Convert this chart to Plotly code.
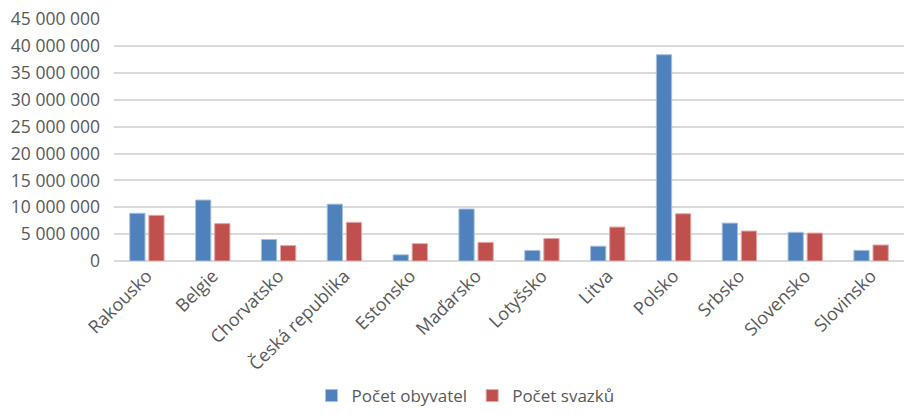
import plotly.graph_objects as go

countries = ["Rakousko", "Belgie", "Chorvatsko", "Česká republika", "Estonsko", "Maďarsko",
             "Lotyšsko", "Litva", "Polsko", "Srbsko", "Slovensko", "Slovinsko"]
obyvatel = [8890000, 11350000, 4000000, 10580000, 1150000, 9680000,
            1970000, 2750000, 38400000, 7060000, 5340000, 1980000]
svazku = [8500000, 6960000, 2870000, 7200000, 3230000, 3470000,
          4200000, 6320000, 8800000, 5580000, 5200000, 2980000]
yticks = [0, 5000000, 10000000, 15000000, 20000000, 25000000, 30000000, 35000000, 40000000, 45000000]

fam = "Open Sans, Lato, sans-serif"

fig = go.Figure()
fig.add_trace(go.Bar(x=countries, y=obyvatel, name="Počet obyvatel",
                     marker=dict(color="#4F81BD", line=dict(color="#A7C0DE", width=1))))
fig.add_trace(go.Bar(x=countries, y=svazku, name="Počet svazků",
                     marker=dict(color="#C0504D", line=dict(color="#E0A8A6", width=1))))

fig.update_layout(
    width=904, height=414,
    margin=dict(l=114, r=0, t=19, b=153, autoexpand=False),
    paper_bgcolor="white", plot_bgcolor="white",
    font=dict(family=fam, size=16, color="#595959"),
    separators=", ",
    barmode="group", bargap=0.42, bargroupgap=0.2,
    showlegend=True,
    legend=dict(orientation="h", xref="container", x=0.515, xanchor="center",
                yref="container", y=0, yanchor="bottom",
                font=dict(family=fam, size=17, color="#595959"),
                itemwidth=30, tracegroupgap=0),
    xaxis=dict(tickangle=-45, showgrid=False, showline=False, ticks="", automargin=False,
               tickfont=dict(family=fam, size=18, color="#595959")),
    yaxis=dict(range=[0, 45050000], tickvals=yticks, tickformat=",d", automargin=False,
               showgrid=True, gridcolor="#D9D9D9", gridwidth=1.5,
               zeroline=True, zerolinecolor="#D9D9D9", zerolinewidth=1.5,
               ticks="", ticklabelstandoff=13,
               tickfont=dict(family=fam, size=17.5, color="#595959")),
)

fig.write_html("out.html", config={"displayModeBar": False},
               post_script="document.body.style.margin='0';document.body.style.overflow='hidden';")
